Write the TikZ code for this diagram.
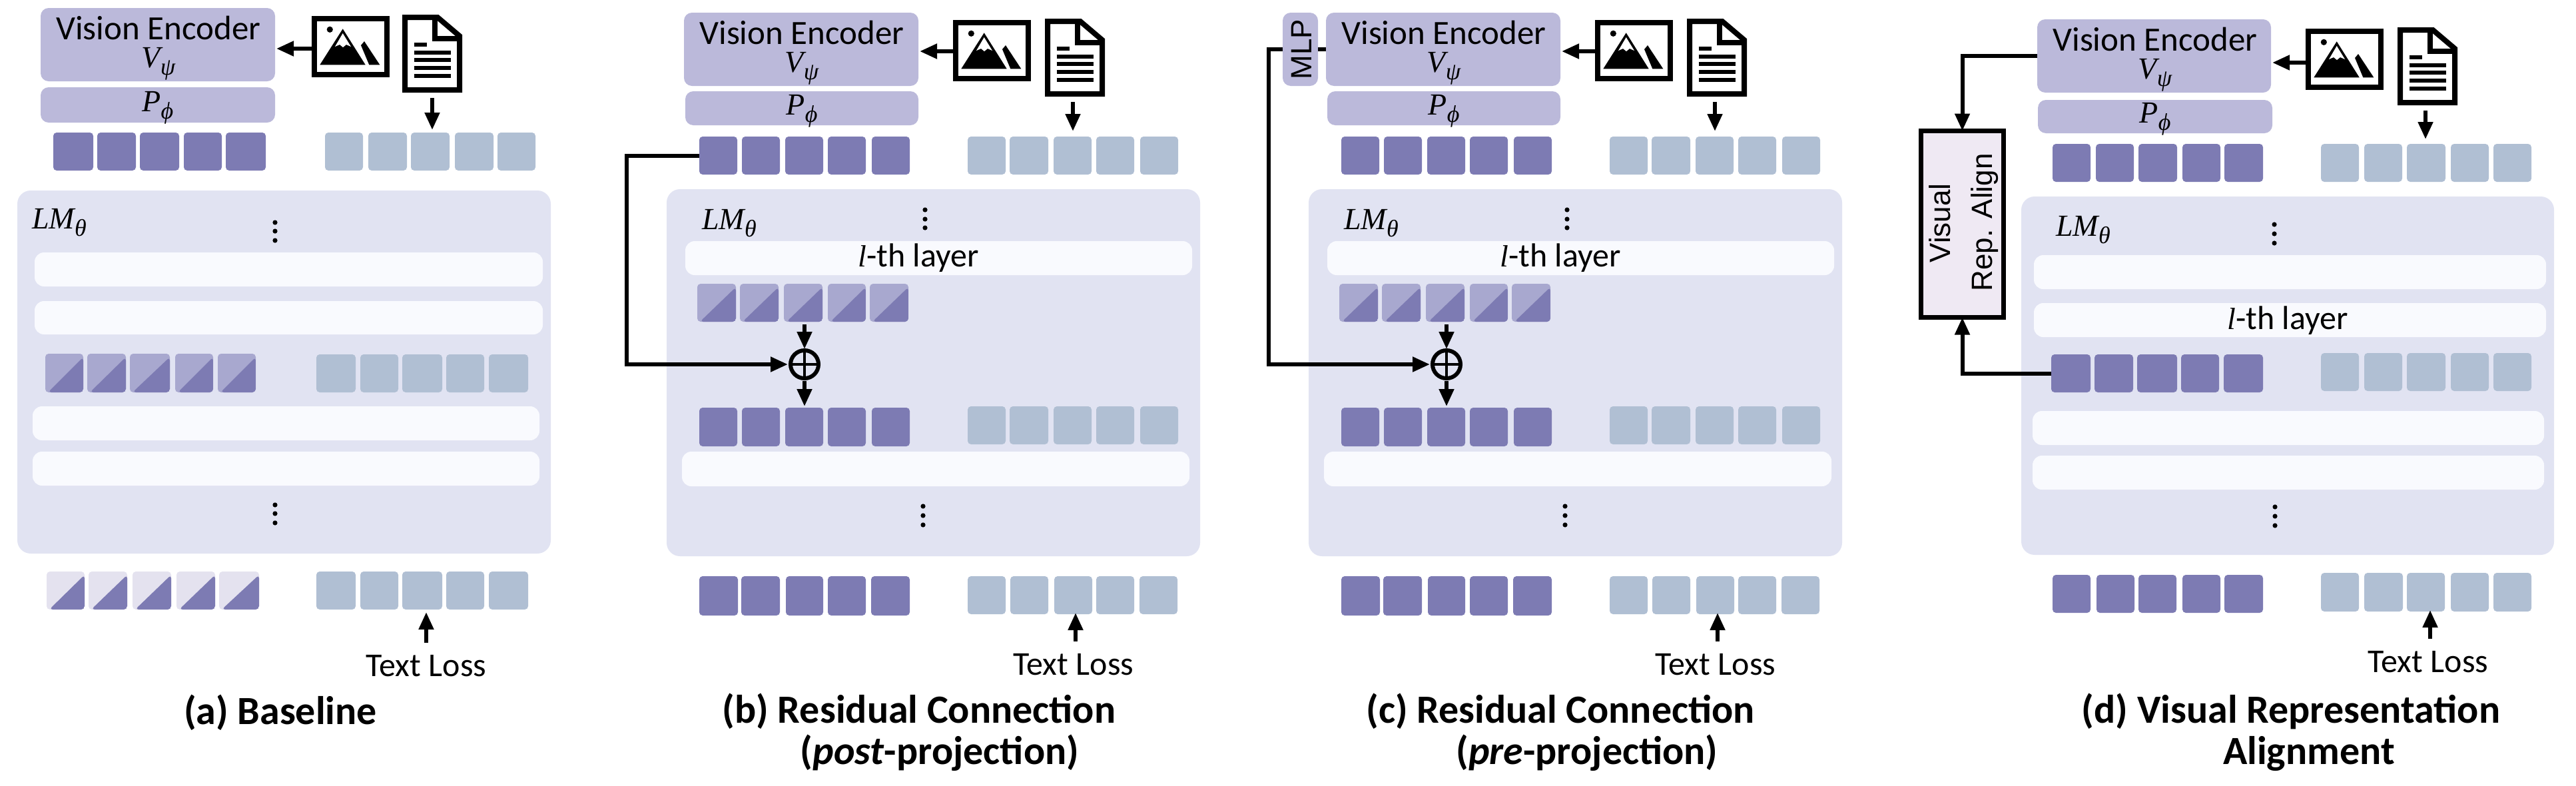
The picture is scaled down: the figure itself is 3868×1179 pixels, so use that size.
\documentclass[tikz,border=0pt]{standalone}
\usepackage{fontspec}
\setmainfont{Carlito}
\newfontfamily\mth{Liberation Serif}
\newfontfamily\arl{Liberation Sans}
\usetikzlibrary{arrows.meta,calc}
\definecolor{tokdark}{HTML}{7D7BB3}
\definecolor{toktext}{HTML}{B0BFD3}
\definecolor{halflight}{HTML}{A8A8CF}
\definecolor{halfpale}{HTML}{E4E2EF}
\definecolor{encfill}{HTML}{BBB9DA}
\definecolor{lmfill}{HTML}{E1E3F2}
\definecolor{layerfill}{HTML}{F9FAFE}
\definecolor{alignfill}{HTML}{EFE9F3}
\newcommand\fs[1]{\fontsize{#1}{#1}\selectfont}
\newcommand\mi[1]{{\fs{23}\mth\itshape #1}}
\newcommand\sbs[1]{\raisebox{-5.5pt}{\fs{18}\mth\itshape #1}}
\newcommand\bx[7]{%
  \pgfmathsetmacro\cx{(#3+#5)/2}\pgfmathsetmacro\cy{(#4+#6)/2}%
  \pgfmathsetmacro\bw{(#5-#3)/2}\pgfmathsetmacro\bh{(#6-#4)/2}%
  \node[#1,minimum width=\bw pt,minimum height=\bh pt](#2) at (\cx,\cy){#7};}
\newcommand\tx[5][]{\node[txt,#1](#2) at (#3,#4){#5};}
\newcommand\rowx[5]{\foreach \i/\a/\b in {#5}{\bx{#1}{#2\i}{\a}{#3}{\b}{#4}{}}}
\newcommand\dotsv[4]{\foreach \d in {#2,#3,#4}{\fill (#1,\d) circle[radius=1.8pt];}}
\newcommand\imgicon[3]{%
  \bx{iconbox}{#1}{#2}{#3}{#2+117}{#3+92}{}%
  \begin{scope}[shift={(#2,#3)}]
    \draw[line width=4pt] (4,4) rectangle (113,88);
    \fill (46.7,19.3) -- (12.3,73.3) -- (80.7,73.3) -- cycle;
    \fill[white] (46.7,26) -- (35,46) -- (42,43) -- (47,47) -- (52,43) -- (59,46) -- cycle;
    \fill (74,44) -- (79,38) -- (102.3,73.3) -- (86.3,73.3) -- cycle;
    \fill (27.3,20.3) circle[radius=2.3pt];
  \end{scope}}
\newcommand\docicon[3]{%
  \bx{iconbox}{#1}{#2}{#3}{#2+90}{#3+117}{}%
  \begin{scope}[shift={(#2,#3)}]
    \draw[line width=4pt,line join=miter,fill=white] (4,4) -- (53,4) -- (86,32) -- (86,113) -- (4,113) -- cycle;
    \draw[line width=4pt] (49,4) -- (49,36) -- (86,36);
    \draw[line width=3pt] (17.7,45) -- (36.7,45);
    \foreach \l in {57.3,68.3,80.3,92}{\draw[line width=3pt] (17.7,\l) -- (72.7,\l);}
  \end{scope}}
\tikzset{
  x=0.5pt,y=-0.5pt,
  every node/.style={inner sep=0pt,outer sep=0pt},
  txt/.style={anchor=base},
  vetxt/.style={anchor=north,align=center,font=\fontsize{25.5}{21}\selectfont},
  iconbox/.style={fill=none},
  tokdk/.style={fill=tokdark,rounded corners=2.5pt},
  toktx/.style={fill=toktext,rounded corners=2.5pt},
  halfa/.style={fill=halflight,rounded corners=2.5pt,
    path picture={\fill[tokdark] ([yshift=-2.5pt]path picture bounding box.north east) -- (path picture bounding box.south east) -- ([xshift=2pt]path picture bounding box.south west) -- cycle;}},
  halfb/.style={halfa,fill=halfpale},
  enc/.style={fill=encfill,rounded corners=6pt},
  lm/.style={fill=lmfill,rounded corners=10pt},
  layer/.style={fill=layerfill,rounded corners=7pt},
  conn/.style={line width=3pt,-{Triangle[length=13pt,width=10.8pt]}},
  plain/.style={line width=3pt},
  sumnode/.style={circle,draw,line width=3pt,minimum size=21pt},
  alignbox/.style={draw,line width=3.5pt,fill=alignfill},
  lbl/.style={font=\fs{25}},
  ttl/.style={font=\fs{30}\bfseries},
  sans/.style={font=\fs{22}\arl,rotate=90},
}
% common parts of panels (b) and (c)
\newcommand\panelbc[2]{%
\begin{scope}[shift={(#2,0)}]
  \bx{lm}{lm#1}{1001}{284}{1802}{835}{}
  \bx{enc}{ve#1}{1027}{19}{1379}{129}{}
  \bx{enc}{pr#1}{1029}{137}{1379}{188}{}
  \tx[vetxt]{ven#1}{1204}{31}{Vision Encoder\\\mi{V}\sbs{ψ}}
  \tx[lbl]{pph#1}{1204}{172}{\mi{P}\sbs{ϕ}}
  \imgicon{img#1}{1431}{30}
  \docicon{doc#1}{1569}{28}
  \rowx{tokdk}{vt#1}{205}{262}{1/1050/1107,2/1114/1171,3/1179/1236,4/1243/1300,5/1309/1366}
  \rowx{toktx}{tt#1}{205}{262}{1/1453/1510,2/1516/1574,3/1582/1639,4/1646/1703,5/1712/1769}
  \tx[lbl]{lmt#1}{1095}{344}{\mi{LM}\sbs{θ}}
  \dotsv{1389}{315}{329}{342}
  \bx{layer}{la#1}{1029}{362}{1790}{413}{}
  \tx[lbl]{lth#1}{1379}{400}{\mi{l}-th layer}
  \rowx{halfa}{hf#1}{426}{483}{1/1047/1105,2/1111/1169,3/1177/1235,4/1243/1300,5/1306/1364}
  \node[sumnode](sum#1) at (1208,547){};
  \draw[line width=2.4pt] (sum#1.north) -- (sum#1.south) (sum#1.west) -- (sum#1.east);
  \rowx{tokdk}{vm#1}{612}{670}{1/1050/1107,2/1114/1171,3/1179/1236,4/1243/1300,5/1309/1366}
  \rowx{toktx}{tm#1}{610}{667}{1/1453/1510,2/1516/1574,3/1582/1639,4/1646/1703,5/1712/1769}
  \bx{layer}{lb#1}{1024}{678}{1786}{730}{}
  \dotsv{1386}{760}{774}{788}
  \rowx{tokdk}{vb#1}{865}{924}{1/1050/1108,2/1113/1171,3/1180/1236,4/1243/1300,5/1308/1366}
  \rowx{toktx}{tb#1}{865}{922}{1/1453/1510,2/1517/1574,3/1583/1640,4/1646/1703,5/1711/1768}
  \tx[lbl]{los#1}{1612}{1013}{Text Loss}
  \draw[conn,shorten >=1pt] (img#1.west) ++(0,1) -- (ve#1.east |- 0,77);
  \draw[conn,shorten <=4pt,shorten >=2pt] (doc#1.south) ++(-3,0) -- ++(0,56);
  \draw[conn,shorten <=2pt,shorten >=1pt] (sum#1.north |- hf#13.south) -- (sum#1.north);
  \draw[conn,shorten <=2pt,shorten >=1pt] (sum#1.south) -- (sum#1.south |- vm#13.north);
  \draw[conn,shorten <=9pt,shorten >=-1pt] (los#1.north) ++(3,0) -- (1615,922);
\end{scope}}
\begin{document}
\begin{tikzpicture}
\useasboundingbox (0,0) rectangle (3868,1179);
% ---------- panel (a)
\bx{lm}{lmA}{26}{286}{827}{831}{}
\bx{enc}{veA}{61}{12}{413}{122}{}
\bx{enc}{prA}{61}{131}{413}{184}{}
\tx[vetxt]{venA}{238}{24}{Vision Encoder\\\mi{V}\sbs{ψ}}
\tx[lbl]{pphA}{237}{167}{\mi{P}\sbs{ϕ}}
\imgicon{imgA}{468}{24}
\docicon{docA}{604}{22}
\rowx{tokdk}{vtA}{199}{256}{1/80/140,2/146/204,3/210/269,4/276/333,5/339/399}
\rowx{toktx}{ttA}{199}{256}{1/488/545,2/553/611,3/617/675,4/683/741,5/747/804}
\tx[lbl]{lmtA}{89}{343}{\mi{LM}\sbs{θ}}
\dotsv{413}{334}{347}{361}
\bx{layer}{l1A}{52}{379}{815}{430}{}
\bx{layer}{l2A}{52}{452}{815}{502}{}
\rowx{halfa}{hfA}{531}{589}{1/68/125,2/131/189,3/195/255,4/263/320,5/327/384}
\rowx{toktx}{tmA}{532}{589}{1/475/534,2/541/598,3/604/664,4/670/727,5/734/793}
\bx{layer}{l3A}{49}{610}{810}{661}{}
\bx{layer}{l4A}{49}{678}{810}{729}{}
\dotsv{413}{758}{771}{785}
\rowx{halfb}{vbA}{858}{915}{1/70/127,2/133/191,3/199/257,4/265/323,5/329/389}
\rowx{toktx}{tbA}{858}{915}{1/475/534,2/541/598,3/604/664,4/670/727,5/734/793}
\tx[lbl]{losA}{640}{1015}{Text Loss}
\tx[ttl]{ttlA}{421}{1087}{(a) Baseline}
\draw[conn,shorten >=1pt] (imgA.west) ++(0,3) -- (veA.east |- 0,73);
\draw[conn,shorten <=4pt,shorten >=2pt] (docA.south) -- (docA.south |- ttA3.north);
\draw[conn,shorten <=9pt,shorten >=2pt] (losA.north) -- (losA.north |- tbA3.south);
% ---------- panels (b), (c)
\panelbc{B}{0}
\panelbc{C}{964}
\tx[ttl]{ttlB}{1380}{1085}{(b) Residual Connection}
\tx[ttl]{ttbB}{1411}{1147}{(\textit{post}-projection)}
\coordinate (turnB) at (941,400);
\draw[conn,line join=miter,shorten >=2pt] (vtB1.west) -| (turnB) |- (sumB.west);
\bx{enc}{mlpC}{1926}{19}{1979}{129}{}
\tx[sans]{mlptC}{1969}{74}{MLP}
\coordinate (turnC) at (1905,300);
\draw[plain] (mlpC.east) -- (veC.west);
\draw[conn,line join=miter,shorten >=2pt] (mlpC.west) -| (turnC) |- (sumC.west);
\tx[ttl]{ttlC}{2343}{1085}{(c) Residual Connection}
\tx[ttl]{ttbC}{2383}{1147}{(\textit{pre}-projection)}
% ---------- panel (d)
\bx{lm}{lmD}{3035}{295}{3835}{833}{}
\bx{enc}{veD}{3059}{29}{3410}{139}{}
\bx{enc}{prD}{3060}{150}{3412}{200}{}
\tx[vetxt]{venD}{3236}{41}{Vision Encoder\\\mi{V}\sbs{ψ}}
\tx[lbl]{pphD}{3236}{184}{\mi{P}\sbs{ϕ}}
\imgicon{imgD}{3462}{43}
\docicon{docD}{3600}{41}
\rowx{tokdk}{vtD}{216}{273}{1/3082/3139,2/3147/3204,3/3211/3269,4/3277/3334,5/3340/3398}
\rowx{toktx}{ttD}{216}{273}{1/3485/3542,2/3550/3607,3/3614/3672,4/3680/3737,5/3744/3801}
\tx[lbl]{lmtD}{3128}{354}{\mi{LM}\sbs{θ}}
\dotsv{3415}{337}{351}{365}
\bx{layer}{l1D}{3054}{383}{3823}{434}{}
\bx{layer}{l2D}{3054}{455}{3823}{506}{}
\tx[lbl]{lthD}{3435}{494}{\mi{l}-th layer}
\rowx{tokdk}{vmD}{532}{589}{1/3080/3139,2/3145/3203,3/3209/3269,4/3275/3332,5/3339/3398}
\rowx{toktx}{tmD}{530}{587}{1/3485/3542,2/3550/3607,3/3614/3672,4/3680/3737,5/3744/3801}
\bx{layer}{l3D}{3052}{617}{3820}{668}{}
\bx{layer}{l4D}{3052}{684}{3820}{735}{}
\dotsv{3416}{761}{775}{789}
\rowx{tokdk}{vbD}{863}{920}{1/3082/3139,2/3148/3205,3/3211/3268,4/3277/3334,5/3340/3398}
\rowx{toktx}{tbD}{860}{918}{1/3485/3542,2/3550/3608,3/3614/3671,4/3680/3737,5/3744/3801}
\tx[lbl]{losD}{3646}{1009}{Text Loss}
\bx{alignbox}{vraD}{2884.5}{196.5}{3008.5}{476.5}{}
\tx[sans]{vrtD}{2928}{335}{Visual}
\tx[sans]{vrbD}{2991}{334}{Rep. Align}
\tx[ttl]{ttlD}{3440}{1085}{(d) Visual Representation}
\tx[ttl]{ttbD}{3467}{1147}{Alignment}
\draw[conn,shorten >=1pt] (imgD.west) ++(0,5) -- (veD.east |- 0,94);
\draw[conn,shorten <=4pt,shorten >=2pt] (docD.south) ++(-3,0) -- ++(0,55);
\draw[conn,shorten <=9pt,shorten >=-1pt] (losD.north) ++(3,0) -- (3649,918);
\draw[conn,line join=miter] (veD.west) -| (vraD.north);
\draw[conn,line join=miter] (vmD1.west) -| (vraD.south);
\end{tikzpicture}
\end{document}
